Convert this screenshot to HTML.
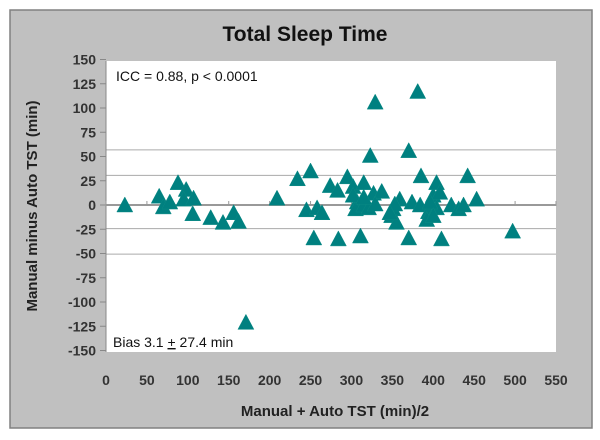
<!DOCTYPE html>
<html><head><meta charset="utf-8"><style>
body{margin:0;background:#fff;width:600px;height:435px;overflow:hidden;font-family:"Liberation Sans",sans-serif}
</style></head><body>
<svg width="600" height="435" id="svg">
<rect x="10" y="10" width="582" height="418" fill="#c0c0c0" stroke="#808080" stroke-width="1.5"/>
<text x="305" y="41" text-anchor="middle" font-size="21" font-weight="bold" fill="#111">Total Sleep Time</text>
<rect x="106" y="61" width="450" height="291" fill="#fff"/>
<g id="grid"></g>
<g id="axes"></g>
<g id="pts"></g>
<text x="116" y="81" font-size="14" fill="#111">ICC = 0.88, p &lt; 0.0001</text>
<text x="113" y="347" font-size="14" fill="#111">Bias 3.1 <tspan text-decoration="underline">+</tspan> 27.4 min</text>
<text x="335" y="416" text-anchor="middle" font-size="15" font-weight="bold" fill="#222">Manual + Auto TST (min)/2</text>
<text transform="translate(37,206) rotate(-90)" text-anchor="middle" font-size="15" font-weight="bold" fill="#222">Manual minus Auto TST (min)</text>
</svg>
<script>
const xVals=[23,65,70,78,88,98,95,107,106,128,143,156,162,171,209,234,250,245,258,264,254,274,283,284,295,302,315,307,305,311,315,323,329,327,337,321,329,351,359,349,355,370,370,381,385,374,384,394,392,400,404,408,410,404,422,431,437,442,453,497,302,315,353,396,400,347];
const yVals=[-1,8,-3,2,22,15,5,6,-10,-14,-19,-9,-18,-122,6,26,34,-6,-4,-9,-35,19,14,-36,28,18,22,2,-5,-33,-1,50,105,11,13,-4,0,-5,5,-12,-19,55,-35,116,29,2,-1,-8,-16,9,22,12,-36,-4,-1,-5,-1,29,5,-28,9,7,0,2,-12,-9];
const refLines=[56.8,30.5,0,-24.3,-50.6];
const xTicks=[0,50,100,150,200,250,300,350,400,450,500,550];
const yTicks=[150,125,100,75,50,25,0,-25,-50,-75,-100,-125,-150];
const X=v=>106+v*450/550, Y=v=>205-v*291/300;
const NS='http://www.w3.org/2000/svg';
function mk(p,t,a){const e=document.createElementNS(NS,t);for(const k in a)e.setAttribute(k,a[k]);document.getElementById(p).appendChild(e);return e;}
refLines.forEach(v=>{const e=mk('grid','line',{x1:106,x2:556,y1:Y(v),y2:Y(v),stroke:v===0?'#999':'#aaa','stroke-width':v===0?2:1});

});
const ya=mk('axes','line',{x1:106,x2:106,y1:61,y2:352,stroke:'#888'});


yTicks.forEach(v=>{const y=Y(v);mk('axes','line',{x1:100,x2:106,y1:y,y2:y,stroke:'#888'});
const t=mk('axes','text',{x:96,y:y+5,'text-anchor':'end','font-size':14,'font-weight':'bold',fill:'#333'});t.textContent=v;

});
xTicks.forEach(v=>{const x=X(v);mk('axes','line',{x1:x,x2:x,y1:Y(0)-4,y2:Y(0)+1,stroke:'#999'});
const t=mk('axes','text',{x:x,y:385,'text-anchor':'middle','font-size':14,'font-weight':'bold',fill:'#333'});t.textContent=v;

});
xVals.forEach((v,i)=>{const x=X(v),y=Y(yVals[i]);
const p=mk('pts','path',{d:`M${x},${y-9}L${x+8},${y+6}L${x-8},${y+6}Z`,fill:'#008080',stroke:'#0a8a84','stroke-width':0.5});

});
</script>
</body></html>
